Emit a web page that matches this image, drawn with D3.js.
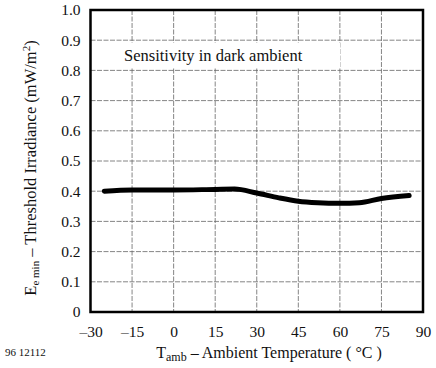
<!DOCTYPE html>
<html>
<head>
<script src="https://d3js.org/d3.v7.min.js"></script>
<style>
  body { margin: 0; background: #fff; }
  text { font-family: "Liberation Serif", "DejaVu Serif", serif; fill: #111; }
</style>
</head>
<body>
<svg id="chart" width="436" height="368"></svg>
<script>
// temperature (°C) and threshold irradiance (mW/m²)
var temps  = [-25, -15, 0, 15, 22, 30, 38, 45, 52, 60, 67, 75, 85];
var values = [0.400, 0.404, 0.404, 0.406, 0.407, 0.394, 0.378, 0.367, 0.362, 0.360, 0.362, 0.376, 0.386];
var xTicks = [-30, -15, 0, 15, 30, 45, 60, 75, 90];
var yTicks = [0, 0.1, 0.2, 0.3, 0.4, 0.5, 0.6, 0.7, 0.8, 0.9, 1.0];

var pLeft = 90.5, pRight = 423, pTop = 10, pBottom = 312;

var svg = d3.select("#chart");

var x = d3.scaleLinear().domain([-30, 90]).range([pLeft, pRight]);
var y = d3.scaleLinear().domain([0, 1]).range([pBottom, pTop]);

// grid
var grid = svg.append("g").attr("stroke", "#666").attr("stroke-width", 0.8)
  .attr("stroke-dasharray", "5,1.5");
grid.selectAll(".gx").data(xTicks.slice(1, -1)).enter().append("line")
  .attr("x1", d => x(d)).attr("x2", d => x(d))
  .attr("y1", pTop).attr("y2", pBottom);
grid.selectAll(".gy").data(yTicks.slice(1, -1)).enter().append("line")
  .attr("x1", pLeft).attr("x2", pRight)
  .attr("y1", d => y(d)).attr("y2", d => y(d));

// label box
svg.append("rect").attr("x", 104).attr("y", 43).attr("width", 236).attr("height", 24)
  .attr("fill", "#fff");
svg.append("text").attr("x", 124).attr("y", 61).attr("font-size", 16.5)
  .text("Sensitivity in dark ambient");

// frame
svg.append("rect").attr("x", pLeft).attr("y", pTop)
  .attr("width", pRight - pLeft).attr("height", pBottom - pTop)
  .attr("fill", "none").attr("stroke", "#000").attr("stroke-width", 2.5);

// axes (labels only, ticks hidden)
var axisX = d3.axisBottom(x).tickValues(xTicks).tickSize(0).tickPadding(14)
  .tickFormat(d => d < 0 ? "\u2013" + Math.abs(d) : d);
var gx = svg.append("g").attr("transform", "translate(0," + pBottom + ")").call(axisX);
gx.select(".domain").remove();
gx.selectAll("text").attr("font-size", 15.5).attr("font-family", "Liberation Serif");

var axisY = d3.axisLeft(y).tickValues(yTicks).tickSize(0).tickPadding(10)
  .tickFormat(d => d === 0 ? "0" : d3.format(".1f")(d));
var gy = svg.append("g").attr("transform", "translate(" + pLeft + ",0)").call(axisY);
gy.select(".domain").remove();
gy.selectAll("text").attr("font-size", 15.5).attr("font-family", "Liberation Serif");

// curve
var line = d3.line().x((d, i) => x(temps[i])).y(d => y(d)).curve(d3.curveMonotoneX);
svg.append("path").datum(values).attr("d", line)
  .attr("fill", "none").attr("stroke", "#000").attr("stroke-width", 5)
  .attr("stroke-linecap", "round");

// axis titles
var xt = svg.append("text").attr("x", 269).attr("y", 358).attr("text-anchor", "middle")
  .attr("font-size", 16);
xt.append("tspan").text("T");
xt.append("tspan").attr("font-size", 12).attr("dy", 3).text("amb");
xt.append("tspan").attr("dy", -3).text(" \u2013 Ambient Temperature ( \u00b0C )");

var yt = svg.append("text").attr("transform", "translate(36,168) rotate(-90)")
  .attr("text-anchor", "middle").attr("font-size", 16.5);
yt.append("tspan").text("E");
yt.append("tspan").attr("font-size", 11).attr("dy", 3).text("e min");
yt.append("tspan").attr("dy", -3).text("  \u2013  Threshold Irradiance (mW/m");
yt.append("tspan").attr("font-size", 11).attr("dy", -6).text("2");
yt.append("tspan").attr("dy", 6).text(")");

svg.append("text").attr("x", 5).attr("y", 356).attr("font-size", 11).text("96 12112");
</script>
</body>
</html>
